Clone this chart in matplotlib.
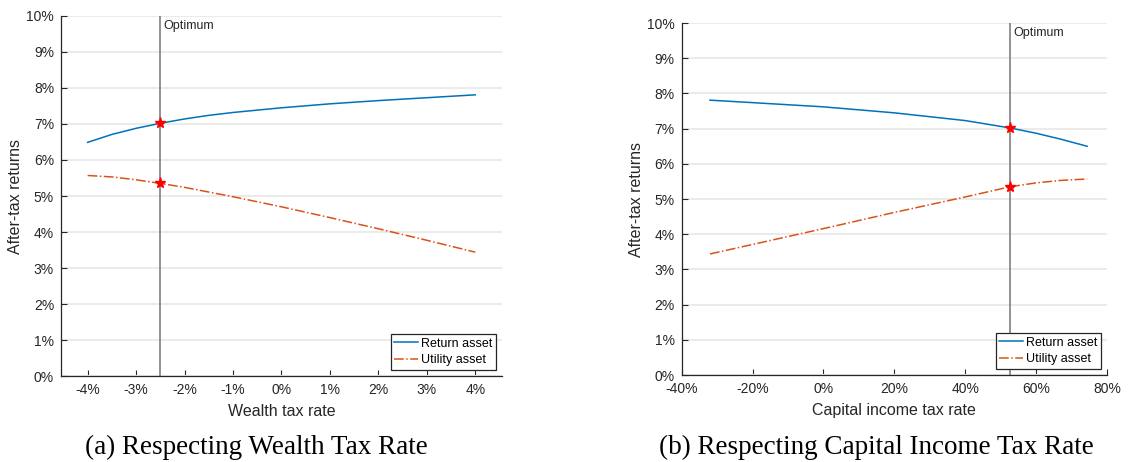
import matplotlib
matplotlib.use('Agg')
import matplotlib.pyplot as plt
from matplotlib.ticker import FuncFormatter, MultipleLocator

plt.rcParams['font.family'] = ['Liberation Sans', 'DejaVu Sans']
plt.rcParams['axes.unicode_minus'] = False

# wealth tax rate (%) vs after-tax returns (%)
wealth_tax = [-4, -3.5, -3, -2.5, -2, -1.5, -1, 0, 1, 2, 3, 4]
wealth_return = [6.49, 6.71, 6.88, 7.02, 7.14, 7.24, 7.32, 7.45, 7.56, 7.65, 7.73, 7.81]
wealth_utility = [5.57, 5.53, 5.45, 5.35, 5.24, 5.11, 4.98, 4.70, 4.40, 4.09, 3.77, 3.44]
wealth_opt = -2.5
wealth_opt_vals = [7.02, 5.35]

# capital income tax rate (%) vs after-tax returns (%)
cap_tax = [-32, -20, 0, 20, 40, 52.7, 60, 67, 74.4]
cap_return = [7.81, 7.74, 7.62, 7.45, 7.23, 7.02, 6.87, 6.70, 6.50]
cap_utility = [3.44, 3.71, 4.16, 4.62, 5.06, 5.35, 5.46, 5.53, 5.57]
cap_opt = 52.7
cap_opt_vals = [7.02, 5.35]

series_names = ['Return asset', 'Utility asset']
captions = ['(a) Respecting Wealth Tax Rate', '(b) Respecting Capital Income Tax Rate']

BLUE = '#0072BD'
ORANGE = '#D95319'
AXC = '#262626'

pct = FuncFormatter(lambda v, p: '%d%%' % round(v))

fig = plt.figure(figsize=(11.46, 4.62), dpi=100)
ax1 = fig.add_axes([0.0532, 0.1861, 0.3848, 0.7793])
ax2 = fig.add_axes([0.5948, 0.1883, 0.3712, 0.7617])


def draw(ax, x, ret, util, opt, opt_vals, xlabel, xlim, xstep):
    ax.plot(x, ret, color=BLUE, lw=1.1, label=series_names[0], zorder=3)
    ax.plot(x, util, color=ORANGE, lw=1.1, ls='-.', label=series_names[1], zorder=3)
    ax.axvline(opt, color='#808080', lw=1.2, zorder=2)
    ax.plot([opt] * len(opt_vals), opt_vals, ls='none', marker='*', ms=8,
            color='red', zorder=4)
    ax.text(opt + (xlim[1] - xlim[0]) * 0.008, 9.72, 'Optimum', fontsize=9,
            color=AXC, ha='left', va='center')
    ax.set_xlim(*xlim)
    ax.set_ylim(0, 10)
    ax.yaxis.set_major_locator(MultipleLocator(1))
    ax.xaxis.set_major_locator(MultipleLocator(xstep))
    ax.xaxis.set_major_formatter(pct)
    ax.yaxis.set_major_formatter(pct)
    ax.grid(axis='y', color='#ebebeb', lw=1.5, zorder=0)
    ax.set_axisbelow(True)
    for s in ['top', 'right']:
        ax.spines[s].set_visible(False)
    for s in ['left', 'bottom']:
        ax.spines[s].set_color(AXC)
        ax.spines[s].set_linewidth(0.9)
    ax.tick_params(direction='in', length=4, width=0.8, colors=AXC,
                   labelsize=10, pad=5)
    ax.set_xlabel(xlabel, fontsize=11.5, color=AXC, labelpad=5)
    ax.set_ylabel('After-tax returns', fontsize=11.5, color=AXC, labelpad=2)
    leg = ax.legend(loc='lower right', fontsize=9, handlelength=1.9,
                    handletextpad=0.2, labelspacing=0.35, borderpad=0.3,
                    borderaxespad=0.5, fancybox=False, framealpha=1,
                    edgecolor='#262626')
    leg.get_frame().set_linewidth(0.9)


draw(ax1, wealth_tax, wealth_return, wealth_utility, wealth_opt, wealth_opt_vals,
     'Wealth tax rate', (-4.55, 4.55), 1)
draw(ax2, cap_tax, cap_return, cap_utility, cap_opt, cap_opt_vals,
     'Capital income tax rate', (-40, 80), 20)

fig.text(0.2234, 0.032, captions[0], fontsize=19.5, family='Liberation Serif',
         ha='center', va='center')
fig.text(0.7644, 0.032, captions[1], fontsize=19.5, family='Liberation Serif',
         ha='center', va='center')

fig.savefig('out.png', dpi=100)
